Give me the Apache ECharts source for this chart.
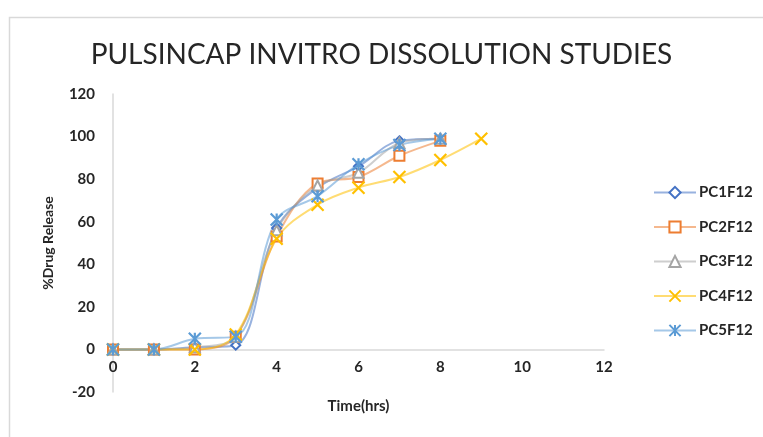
<!DOCTYPE html>
<html>
<head>
<meta charset="utf-8">
<script src="https://cdn.jsdelivr.net/npm/echarts@6/dist/echarts.min.js"></script>
<style>html,body{margin:0;padding:0;background:#fff}#c{width:763px;height:437px}</style>
</head>
<body>
<div id="c"></div>
<script>
var timeHrs = [0, 1, 2, 3, 4, 5, 6, 7, 8, 9];
var seriesNames = ['PC1F12', 'PC2F12', 'PC3F12', 'PC4F12', 'PC5F12'];
var pc1 = [0, 0, 1, 2, 57, 76, 86, 98, 99];
var pc2 = [0, 0, 0, 6, 53, 78, 81, 91, 98];
var pc3 = [0, 0, 1, 6, 56, 77, 83, 97, 99];
var pc4 = [0, 0, 0, 7, 52, 68, 76, 81, 89, 99];
var pc5 = [0, 0, 5, 6, 61, 72, 87, 96, 99];
var xTicks = [0, 2, 4, 6, 8, 10, 12];
var yTicks = [-20, 0, 20, 40, 60, 80, 100, 120];

var colors = ['#4472C4', '#ED7D31', '#A5A5A5', '#FFC000', '#5B9BD5'];
var symbols = ['emptyDiamond', 'emptyRect', 'emptyTriangle',
  'path://M0,0L10,10M10,0L0,10',
  'path://M0,0L10,10M10,0L0,10M5,0L5,10'];
var sizes = [9, 10, 10, 12, 12];
var values = [pc1, pc2, pc3, pc4, pc5];

function pairs(v) { return v.map(function (y, i) { return [timeHrs[i], y]; }); }

var font = 'Lato, Open Sans, sans-serif';
var labelStyle = { fontFamily: font, fontSize: 15, fontWeight: 'bold', color: '#262626' };
var chart = echarts.init(document.getElementById('c'));
chart.setOption({
  animation: false,
  title: {
    text: 'PULSINCAP INVITRO DISSOLUTION STUDIES',
    left: 'center', top: 36,
    textStyle: { fontFamily: font, fontSize: 28, fontWeight: 'normal', color: '#262626' }
  },
  graphic: [{
    type: 'rect', left: 7, top: 15, silent: true,
    shape: { width: 780, height: 450 },
    style: { fill: 'none', stroke: '#d9d9d9', lineWidth: 1.5 }
  }],
  legend: {
    orient: 'vertical', left: 648, top: 180,
    itemWidth: 42, itemHeight: 14, itemGap: 19.5,
    data: seriesNames,
    textStyle: Object.assign({ padding: [0, 0, 0, -2] }, labelStyle)
  },
  grid: [
    { left: 113, right: 159, top: 94, bottom: 45, outerBoundsMode: 'none', containLabel: false },
    { left: 113, right: 159, top: 94, bottom: 87, outerBoundsMode: 'none', containLabel: false }
  ],
  xAxis: [{
    gridIndex: 0, type: 'value', min: xTicks[0], max: xTicks[xTicks.length - 1], interval: 2,
    show: false
  }, {
    gridIndex: 1, type: 'value', min: xTicks[0], max: xTicks[xTicks.length - 1], interval: 2,
    name: 'Time(hrs)', nameLocation: 'middle', nameGap: 49,
    nameTextStyle: labelStyle,
    axisLine: { show: true, onZero: false, lineStyle: { color: '#d9d9d9', width: 1.5 } },
    axisTick: { show: false },
    splitLine: { show: false },
    axisLabel: Object.assign({ margin: 10 }, labelStyle)
  }],
  yAxis: [{
    gridIndex: 0, type: 'value', min: yTicks[0], max: yTicks[yTicks.length - 1], interval: 20,
    name: '%Drug Release', nameLocation: 'middle', nameGap: 58,
    nameTextStyle: { fontFamily: font, fontSize: 14, fontWeight: 'bold', color: '#262626' },
    axisLine: { show: true, lineStyle: { color: '#d9d9d9', width: 1.5 } },
    axisTick: { show: false },
    splitLine: { show: false },
    axisLabel: Object.assign({ margin: 18 }, labelStyle)
  }, {
    gridIndex: 1, type: 'value', min: 0, max: 120, show: false
  }],
  series: seriesNames.map(function (n, i) {
    return {
      name: n, type: 'line', smooth: 0.35, xAxisIndex: 0, yAxisIndex: 0,
      data: pairs(values[i]),
      symbol: symbols[i], symbolSize: sizes[i], showAllSymbol: true,
      itemStyle: { color: colors[i], borderColor: colors[i], borderWidth: 2.2 },
      lineStyle: { color: colors[i], width: 2, opacity: 0.55 },
      z: 3
    };
  })
});
</script>
</body>
</html>
